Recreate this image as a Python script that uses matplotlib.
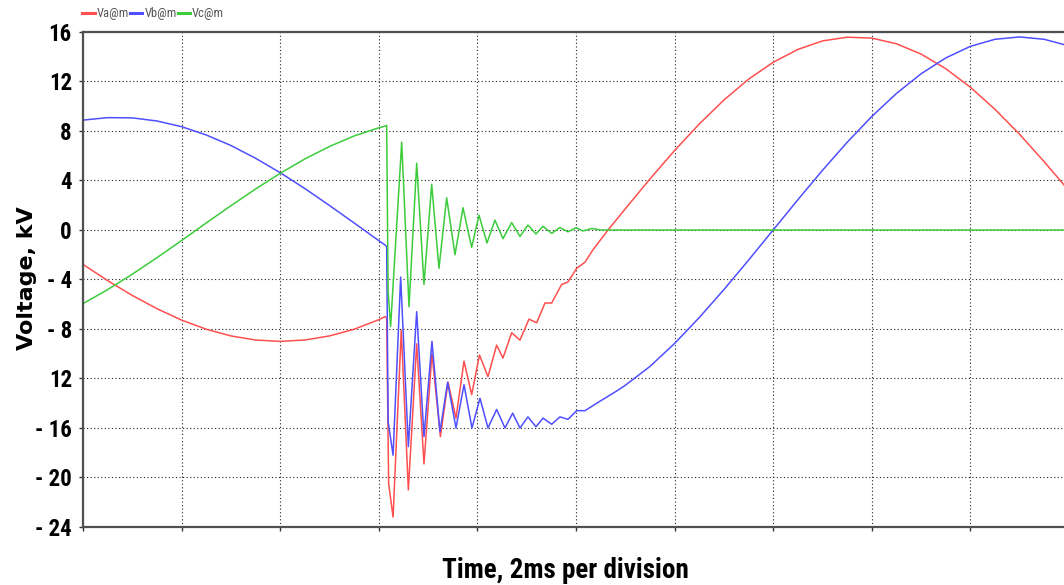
import matplotlib
matplotlib.use("Agg")
import matplotlib.pyplot as plt
from matplotlib import font_manager as fm
from matplotlib.lines import Line2D

# ---- Phase voltages at bus m (time in ms, voltage in kV) ----
t_a = [0, 0.5, 1, 1.5, 2, 2.5, 3, 3.5, 4, 4.5, 5, 5.5, 6, 6.13,
       6.16, 6.20, 6.29, 6.456, 6.60, 6.769, 6.917, 7.079, 7.25, 7.404,
       7.566, 7.729, 7.884, 8.043, 8.215, 8.391, 8.519, 8.696, 8.864,
       9.047, 9.203, 9.371, 9.507, 9.71, 9.838, 10.014, 10.183, 10.345,
       10.65, 11, 11.5, 12, 12.5, 13, 13.5, 14, 14.5, 15, 15.5, 16, 16.5,
       17, 17.5, 18, 18.5, 19, 19.5, 19.9]
v_a = [-2.78, -4.09, -5.29, -6.36, -7.28, -8.02, -8.56, -8.89, -9.0, -8.89,
       -8.56, -8.02, -7.25, -7.0,
       -7.1, -20.5, -23.2, -8.1, -21.0, -9.2, -18.9, -10.0, -16.7, -12.3,
       -15.2, -10.6, -13.3, -10.1, -11.85, -9.3, -10.35, -8.3, -8.9,
       -7.2, -7.5, -5.9, -5.9, -4.4, -4.2, -3.1, -2.6, -1.6,
       0.0, 1.71, 4.12, 6.42, 8.56, 10.50, 12.18, 13.55, 14.59, 15.28, 15.58,
       15.51, 15.05, 14.22, 13.04, 11.54, 9.75, 7.73, 5.51, 3.64]

t_b = [0, 0.5, 1, 1.5, 2, 2.5, 3, 3.5, 4, 4.5, 5, 5.5, 6, 6.13,
       6.16, 6.19, 6.29, 6.444, 6.60, 6.769, 6.917, 7.079, 7.241, 7.397,
       7.566, 7.729, 7.89, 8.053, 8.215, 8.391, 8.56, 8.716, 8.864, 9.026,
       9.189, 9.331, 9.507, 9.675, 9.838, 10.014, 10.183, 10.42, 10.83,
       11, 11.5, 12, 12.5, 13, 13.5, 14, 14.5, 15, 15.5, 16, 16.5, 17,
       17.5, 18, 18.5, 19, 19.5, 19.9]
v_b = [8.88, 9.08, 9.06, 8.81, 8.35, 7.68, 6.83, 5.80, 4.63, 3.35, 1.98,
       0.57, -0.86, -1.22,
       -1.35, -15.5, -18.2, -3.8, -17.5, -6.6, -16.7, -9.0, -16.3, -12.3,
       -16.0, -12.5, -16.0, -13.6, -16.0, -14.5, -16.0, -14.8, -16.0, -15.1,
       -15.9, -15.2, -15.7, -15.1, -15.3, -14.6, -14.6, -14.0, -13.0,
       -12.55, -11.03, -9.17, -7.08, -4.82, -2.44, 0.0, 2.44, 4.82, 7.08,
       9.17, 11.03, 12.62, 13.90, 14.84, 15.41, 15.6, 15.41, 14.98]

t_c = [0, 0.5, 1, 1.5, 2, 2.5, 3, 3.5, 4, 4.5, 5, 5.5, 6, 6.13,
       6.16, 6.19, 6.24, 6.465, 6.613, 6.769, 6.917, 7.073, 7.221, 7.377,
       7.546, 7.708, 7.884, 8.033, 8.195, 8.357, 8.519, 8.696, 8.864,
       9.026, 9.189, 9.331, 9.507, 9.675, 9.838, 10.0, 10.142, 10.318,
       10.5, 19.9]
v_c = [-5.95, -4.82, -3.57, -2.24, -0.85, 0.57, 1.96, 3.31, 4.58, 5.74,
       6.75, 7.60, 8.26, 8.40,
       8.45, -5.0, -7.8, 7.1, -6.2, 5.4, -4.4, 3.7, -3.1, 2.6,
       -2.0, 1.8, -1.4, 1.2, -1.05, 0.8, -0.7, 0.6, -0.52,
       0.4, -0.32, 0.3, -0.27, 0.2, -0.15, 0.18, -0.08, 0.12,
       0.0, 0.0]

series_labels = ["Va@m", "Vb@m", "Vc@m"]
series_colors = ["#ff4f4f", "#4f4fff", "#3ccc3c"]

x_ticks = [0, 2, 4, 6, 8, 10, 12, 14, 16, 18]
y_ticks = [16, 12, 8, 4, 0, -4, -8, -12, -16, -20, -24]
y_tick_labels = ["16", "12", "8", "4", "0", "- 4", "- 8", "12", "- 16", "- 20", "- 24"]


# ---- fonts: prefer a narrow bold face for the horizontal texts ----
def narrow_bold_font():
    fl = fm.fontManager.ttflist
    for name in ["Roboto Condensed", "Liberation Sans Narrow", "Open Sans Condensed",
                 "Arial Narrow"]:
        if any(f.name == name for f in fl):
            return fm.FontProperties(family=name, weight="bold")
    for name in ["Roboto", "Noto Sans", "Open Sans", "Inter"]:
        if any(f.name == name and str(f.stretch) in ("condensed", "extra-condensed",
                                                     "semi-condensed") for f in fl):
            return fm.FontProperties(family=name, weight="bold", stretch="condensed")
    return fm.FontProperties(family="DejaVu Sans", weight="bold", stretch="condensed")


narrow_bold = narrow_bold_font()

W, H = 1064, 585
fig = plt.figure(figsize=(W / 100, H / 100), dpi=100)
ax = fig.add_axes([83 / W, 1 - 527 / H, 1 - 83 / W, (527 - 32) / H])

for t, v, c, lab in zip([t_a, t_b, t_c], [v_a, v_b, v_c], series_colors, series_labels):
    ax.plot(t, v, color=c, lw=1.1, label=lab, solid_joinstyle="round")

ax.set_xlim(0, 19.9)
ax.set_ylim(-24, 16)
ax.set_xticks(x_ticks)
ax.set_xticklabels([])
ax.set_yticks(y_ticks)
ytl_fp = narrow_bold.copy()
ytl_fp.set_size(16.5)
ax.set_yticklabels(y_tick_labels, fontproperties=ytl_fp)

ax.grid(True, color="#222222", lw=0.8, ls=(0, (1, 2.2)))
ax.set_axisbelow(True)
ax.spines["right"].set_visible(False)
for s in ["left", "top", "bottom"]:
    ax.spines[s].set_color("#505050")
    ax.spines[s].set_linewidth(1.6)
ax.tick_params(direction="out", length=3, width=1, color="#333333", pad=5, labelcolor="black")

# legend strip above the plot
handles = [Line2D([], [], color=c, lw=2.2) for c in series_colors]
leg_fp = narrow_bold.copy()
leg_fp.set_size(9)
leg_fp.set_weight("normal")
leg = fig.legend(handles, series_labels, loc="center left",
                 bbox_to_anchor=(82 / W, 1 - 14 / H), ncol=3, frameon=False,
                 prop=leg_fp, handlelength=1.0, handletextpad=0.15,
                 columnspacing=0.1, borderpad=0, borderaxespad=0)
for txt in leg.get_texts():
    txt.set_color("#555555")

xl_fp = narrow_bold.copy()
xl_fp.set_size(19.5)
fig.text(565 / W, 1 - 578 / H, "Time, 2ms per division", ha="center",
         va="baseline", fontproperties=xl_fp)
fig.text(27 / W, 1 - 278 / H, "Voltage, kV", rotation=90, ha="center",
         va="center", fontsize=16, fontweight="bold", family="DejaVu Sans")

fig.savefig("out.png", dpi=100)
